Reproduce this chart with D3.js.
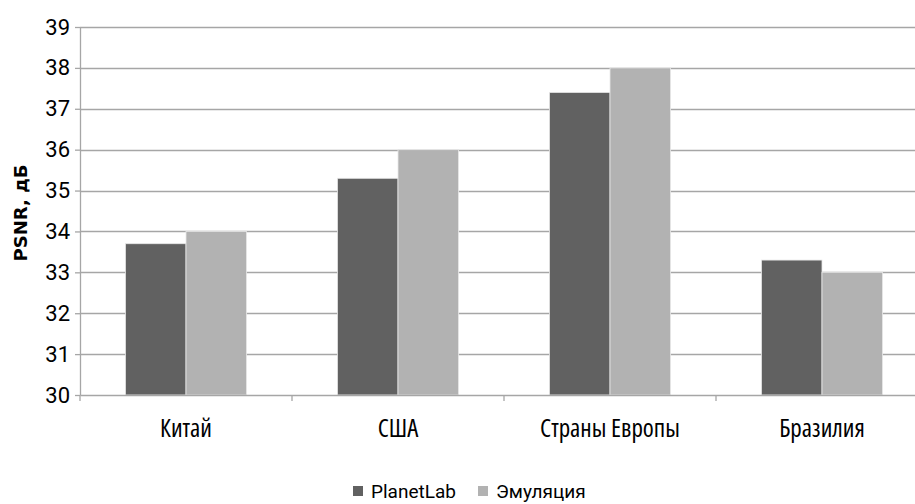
<!DOCTYPE html>
<html>
<head>
<meta charset="utf-8">
<script src="https://cdn.jsdelivr.net/npm/d3@7"></script>
<style>
  body { margin: 0; background: #fff; }
  text { fill: #000; }
</style>
</head>
<body>
<div id="chart"></div>
<script>
var categories = ["Китай", "США", "Страны Европы", "Бразилия"];
var seriesNames = ["PlanetLab", "Эмуляция"];
var planetLab = [33.7, 35.3, 37.4, 33.3];
var emulation = [34.0, 36.0, 38.0, 33.0];
var yTicks = [30, 31, 32, 33, 34, 35, 36, 37, 38, 39];
var yLabel = "PSNR, дБ";

var width = 915, height = 504,
    margin = { top: 27, right: -13, bottom: 109, left: 80 },
    innerWidth = width - margin.left - margin.right,
    innerHeight = height - margin.top - margin.bottom,
    colors = ["#616161", "#b2b2b2"],
    labelFont = "'Open Sans', Roboto, sans-serif";

var data = categories.map(function(c, i) {
    return { cat: c, values: [planetLab[i], emulation[i]] };
});

var svg = d3.select("#chart").append("svg")
    .attr("width", width)
    .attr("height", height);

var g = svg.append("g")
    .attr("transform", "translate(" + margin.left + "," + margin.top + ")");

var xScale = d3.scaleBand().domain(categories).range([0, innerWidth]);
var yScale = d3.scaleLinear().domain([30, 39]).range([innerHeight, 0]);

// two bars per category, gap 150% of a bar width
var barW = xScale.bandwidth() / 3.5;
var x1 = d3.scaleBand().domain([0, 1]).range([0, 2 * barW]);

// gridlines
g.append("g").selectAll("line")
    .data(yTicks.slice(1))
    .enter().append("line")
    .attr("x1", 0).attr("x2", innerWidth)
    .attr("y1", function(d) { return Math.round(yScale(d)) + 0.5; })
    .attr("y2", function(d) { return Math.round(yScale(d)) + 0.5; })
    .attr("stroke", "#a6a6a6")
    .attr("stroke-width", 1.3);

// bars
var groups = g.append("g").selectAll("g")
    .data(data)
    .enter().append("g")
    .attr("transform", function(d) {
        return "translate(" + (xScale(d.cat) + barW * 0.75) + ",0)";
    });

groups.selectAll("rect")
    .data(function(d) { return d.values; })
    .enter().append("rect")
    .attr("x", function(d, i) { return x1(i); })
    .attr("width", x1.bandwidth())
    .attr("y", function(d) { return yScale(d); })
    .attr("height", function(d) { return innerHeight - yScale(d); })
    .attr("fill", function(d, i) { return colors[i]; })
    .attr("stroke", "#e8e8e8")
    .attr("stroke-width", 0.8);

// y axis
var yAxis = g.append("g")
    .call(d3.axisLeft(yScale).tickValues(yTicks).tickSize(5).tickSizeOuter(0).tickPadding(5));
yAxis.select(".domain").attr("stroke", "#a6a6a6").attr("stroke-width", 1.3);
yAxis.selectAll(".tick line").attr("stroke", "#a6a6a6").attr("stroke-width", 1.3);
yAxis.selectAll("text")
    .style("font-family", "Roboto, sans-serif")
    .style("font-size", "22px");

// x axis
var xAxis = g.append("g")
    .attr("transform", "translate(0," + innerHeight + ")")
    .call(d3.axisBottom(xScale).tickSize(0).tickPadding(24));
xAxis.select(".domain").attr("stroke", "#a6a6a6").attr("stroke-width", 1.3);
xAxis.selectAll("text")
    .style("font-family", labelFont)
    .style("font-stretch", "75%")
    .style("font-size", "25px");
// category boundary ticks
xAxis.append("g").selectAll("line")
    .data(categories)
    .enter().append("line")
    .attr("x1", function(d) { return xScale(d); })
    .attr("x2", function(d) { return xScale(d); })
    .attr("y1", 0).attr("y2", 6)
    .attr("stroke", "#a6a6a6")
    .attr("stroke-width", 1.3);

// y label
svg.append("text")
    .attr("transform", "translate(27," + (margin.top + 186) + ") rotate(-90)")
    .attr("text-anchor", "middle")
    .style("font-family", "'DejaVu Sans', sans-serif")
    .style("font-weight", "bold")
    .style("font-size", "18px")
    .text(yLabel);

// legend
var legend = svg.append("g").attr("transform", "translate(353,486)");
var lx = [0, 125];
seriesNames.forEach(function(name, i) {
    legend.append("rect")
        .attr("x", lx[i]).attr("y", 0)
        .attr("width", 10).attr("height", 10)
        .attr("fill", colors[i]);
    legend.append("text")
        .attr("x", lx[i] + 18).attr("y", 12)
        .style("font-family", "Roboto, sans-serif")
        .style("font-size", "19px")
        .text(name);
});
</script>
</body>
</html>
